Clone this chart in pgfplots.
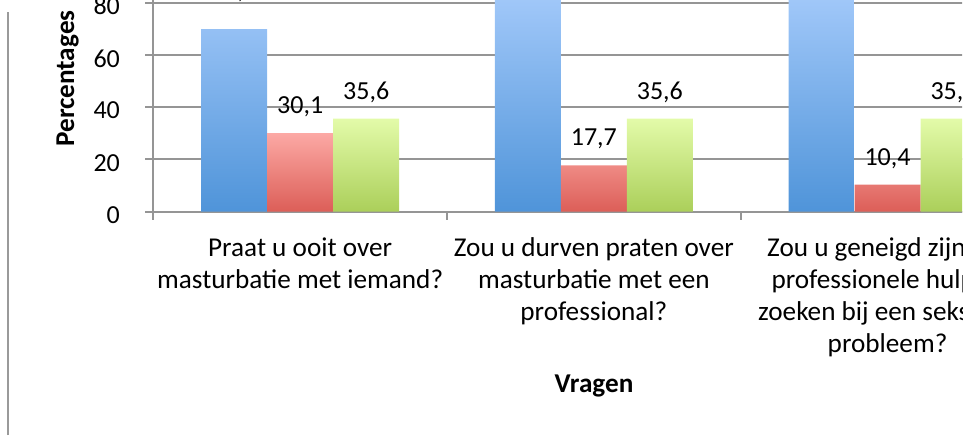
\documentclass[border=0pt]{standalone}
\usepackage{fontspec}
\setmainfont{Carlito}
\usepackage{pgfplots}
\pgfplotsset{compat=1.18}

\definecolor{gridgray}{HTML}{959595}
\definecolor{framegray}{HTML}{9A9A9A}
\definecolor{blueTop}{HTML}{A6CBFB}
\definecolor{blueBot}{HTML}{4F94D9}
\definecolor{redTop}{HTML}{FCA9A5}
\definecolor{redBot}{HTML}{DC5E57}
\definecolor{greenTop}{HTML}{E3FBA9}
\definecolor{greenBot}{HTML}{ABCF5A}

\newcommand{\chartfont}{\fontsize{13pt}{16pt}\selectfont}
\newcommand{\labelfont}{\fontsize{13.6pt}{16pt}\selectfont}

\begin{document}
\begin{tikzpicture}[font=\chartfont]
% the reference is cut off at the top and on the right
\useasboundingbox (0pt,0pt) rectangle (485.5pt,217.5pt);
\clip (0pt,0pt) rectangle (481pt,217.5pt);
\draw[framegray, line width=1pt] (4pt,0pt) -- (4pt,211.5pt);

\begin{axis}[
  at={(76.65pt,111.65pt)}, anchor=south west,
  x=146.85pt, y=1.306pt,
  xmin=-0.5, xmax=2.5, ymin=0, ymax=100,
  enlargelimits=false,
  ybar=0pt, bar width=33pt,
  axis x line*=bottom, axis y line*=left,
  axis line style={draw=gridgray, line width=1pt, -},
  tick align=outside, major tick length=4pt,
  tick style={draw=gridgray, line width=1pt},
  ymajorgrids, grid style={draw=gridgray, line width=1pt},
  ytick={0,20,...,100},
  xtick={-0.5,0.5,1.5,2.5},
  x tick label as interval,
  xticklabels={
    {Praat u ooit over\\masturbatie met iemand?},
    {Zou u durven praten over\\masturbatie met een\\professional?},
    {Zou u geneigd zijn om\\professionele hulp te\\zoeken bij een seksueel\\probleem?}},
  /pgf/number format/assume math mode=true,
  xticklabel style={font=\labelfont, align=center, anchor=north, inner sep=0pt, yshift=-9pt},
  yticklabel style={font=\chartfont, anchor=east, inner sep=0pt, xshift=-12.5pt, yshift=-1.7pt},
  ylabel={\bfseries Percentages},
  ylabel style={font=\labelfont, at={(axis description cs:-0.090,0.510)}, anchor=base},
  xlabel={\bfseries Vragen},
  xlabel style={font=\labelfont, at={(axis description cs:0.5002,-0.694)}, anchor=base},
  nodes near coords={\pgfmathprintnumber[fixed,fixed zerofill,precision=1,use comma]{\pgfplotspointmeta}},
  every node near coord/.append style={font=\chartfont, anchor=base, inner sep=0pt, yshift=9.75pt, text=black},
]
  \addplot[draw=none, top color=blueTop, bottom color=blueBot,
    nodes near coords style={yshift=5.5pt}] coordinates {(0,69.9) (1,84.0) (2,87.5)};
  \addplot[draw=none, top color=redTop, bottom color=redBot] coordinates {(0,30.1) (1,17.7) (2,10.4)};
  \addplot[draw=none, top color=greenTop, bottom color=greenBot] coordinates {(0,35.6) (1,35.6) (2,35.6)};
\end{axis}
\end{tikzpicture}
\end{document}
